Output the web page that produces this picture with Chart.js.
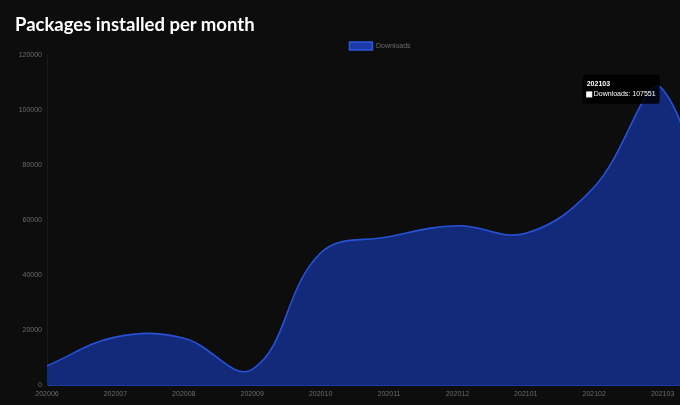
<!DOCTYPE html>
<html>
<head>
<meta charset="utf-8">
<script src="https://cdn.jsdelivr.net/npm/chart.js@4.4.1/dist/chart.umd.min.js"></script>
<style>
html, body { margin:0; padding:0; background:#0e0d0e; width:680px; height:405px; overflow:hidden; position:relative; }
#title { position:absolute; left:15px; top:15px; margin:0; color:#ffffff; font-family:Lato, "Open Sans", sans-serif; font-weight:700; font-size:18.5px; line-height:19px; z-index:2; white-space:nowrap; }
#wrap { position:absolute; left:0; top:30px; width:760px; height:375px; }
</style>
</head>
<body>
<h1 id="title">Packages installed per month</h1>
<div id="wrap"><canvas id="c" width="760" height="375" style="width:760px;height:375px"></canvas></div>
<script>
const months = ['202006','202007','202008','202009','202010','202011','202012','202101','202102','202103','202104'];
const downloads = [7000, 17400, 17000, 5700, 48000, 53900, 57900, 55200, 72000, 107551, 10000];
const seriesLabel = 'Downloads';
const yMin = 0, yMax = 120000, yStep = 20000;
const activeIndex = 9;

Chart.defaults.font.family = "'Liberation Sans', Arial, sans-serif";
Chart.defaults.font.size = 7;
Chart.defaults.color = '#6b6b6b';

const legendFix = {
  id: 'legendFix',
  beforeInit(chart) {
    const lg = chart.legend;
    const orig = lg.fit;
    lg.fit = function () { orig.call(this); this.height = 25; };
  }
};

const chart = new Chart(document.getElementById('c'), {
  type: 'line',
  data: {
    labels: months,
    datasets: [{
      label: seriesLabel,
      data: downloads,
      fill: true,
      backgroundColor: '#13297a',
      borderColor: '#2652d8',
      borderWidth: 1.6,
      tension: 0.4,
      pointRadius: 0,
      pointHoverRadius: 0,
      pointHitRadius: 10
    }]
  },
  options: {
    responsive: false,
    animation: false,
    devicePixelRatio: 1,
    layout: { padding: 0 },
    interaction: { mode: 'index', intersect: false },
    plugins: {
      legend: {
        display: true,
        position: 'top',
        labels: {
          padding: 12,
          boxWidth: 23,
          boxHeight: 8,
          color: '#6b6b6b',
          font: { size: 7 },
          generateLabels(chart) {
            const items = Chart.defaults.plugins.legend.labels.generateLabels(chart);
            items.forEach(it => { it.fillStyle = '#1d3aa8'; it.strokeStyle = '#2b58e0'; it.lineWidth = 1.5; });
            return items;
          }
        }
      },
      tooltip: {
        enabled: true,
        backgroundColor: 'rgba(0,0,0,0.85)',
        titleColor: '#ffffff',
        bodyColor: '#ffffff',
        titleFont: { size: 7, weight: 'bold' },
        bodyFont: { size: 7 },
        titleMarginBottom: 2,
        padding: { x: 4, y: 5 },
        cornerRadius: 2,
        caretSize: 0,
        caretPadding: 3,
        xAlign: 'right',
        yAlign: 'center',
        boxWidth: 5,
        boxHeight: 5,
        boxPadding: 0,
        displayColors: true,
        callbacks: {
          label: ctx => ctx.dataset.label + ': ' + ctx.raw,
          labelColor: () => ({ borderColor: '#ffffff', backgroundColor: '#ffffff', borderWidth: 0 })
        }
      }
    },
    scales: {
      x: {
        grid: { display: false, drawTicks: false },
        border: { display: true, color: '#1d3a9e', width: 1 },
        ticks: { padding: 5, color: '#6b6b6b', font: { size: 7 }, maxRotation: 0, autoSkip: false },
        afterFit(scale) { scale.height = 20; scale.paddingRight = 29; }
      },
      y: {
        min: yMin,
        max: yMax,
        grid: { display: false, drawTicks: false },
        border: { display: true, color: '#1a1a1a', width: 1 },
        ticks: { stepSize: yStep, padding: 5, color: '#6b6b6b', font: { size: 7 }, callback: v => String(v) },
        afterFit(scale) { scale.width = 47; }
      }
    }
  },
  plugins: [legendFix]
});

const meta = chart.getDatasetMeta(0);
const pt = meta.data[activeIndex];
chart.setActiveElements([{ datasetIndex: 0, index: activeIndex }]);
chart.tooltip.setActiveElements([{ datasetIndex: 0, index: activeIndex }], { x: pt.x, y: pt.y });
chart.update();
</script>
</body>
</html>
